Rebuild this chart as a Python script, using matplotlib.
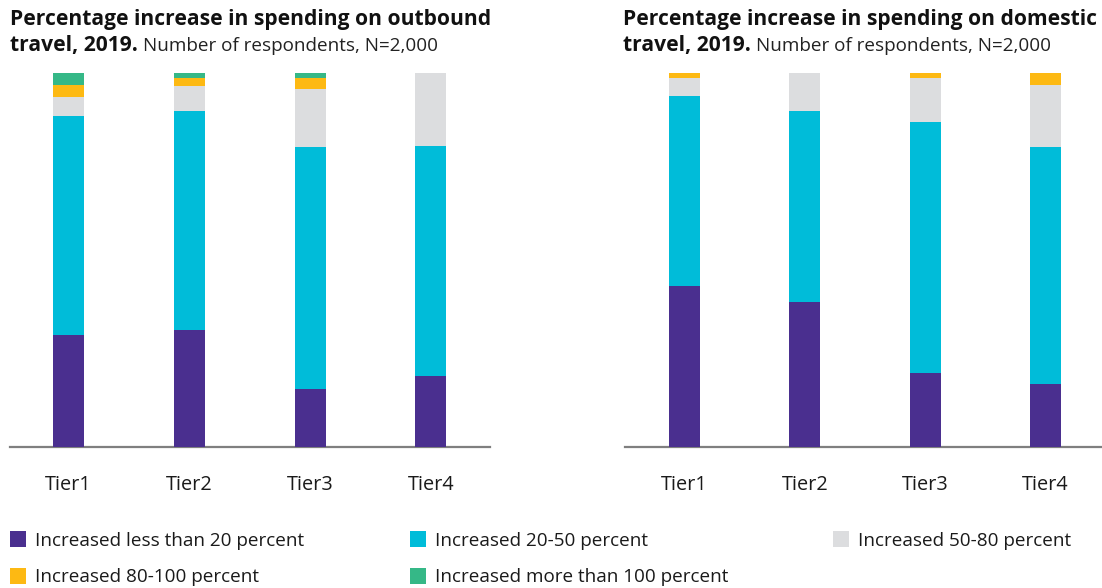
import matplotlib
matplotlib.use("Agg")
import matplotlib.pyplot as plt
from matplotlib.patches import Rectangle

plt.rcParams['font.family'] = ['Open Sans', 'DejaVu Sans']

tiers = ["Tier1", "Tier2", "Tier3", "Tier4"]
series_names = [
    "Increased less than 20 percent",
    "Increased 20-50 percent",
    "Increased 50-80 percent",
    "Increased 80-100 percent",
    "Increased more than 100 percent",
]
colors = ["#4a2f8f", "#00bcd9", "#dcdddf", "#fdb913", "#35b887"]

# Share of respondents (%) per tier, outbound travel
outbound_lt20 = [30.0, 31.3, 15.5, 19.0]
outbound_20_50 = [58.6, 58.6, 64.7, 61.5]
outbound_50_80 = [5.1, 6.7, 15.5, 19.5]
outbound_80_100 = [3.2, 2.1, 2.9, 0.0]
outbound_gt100 = [3.1, 1.3, 1.4, 0.0]

# Share of respondents (%) per tier, domestic travel
domestic_lt20 = [43.0, 38.8, 19.8, 16.8]
domestic_20_50 = [50.8, 51.1, 67.1, 63.4]
domestic_50_80 = [4.9, 10.1, 11.8, 16.6]
domestic_80_100 = [1.3, 0.0, 1.3, 3.2]
domestic_gt100 = [0.0, 0.0, 0.0, 0.0]

outbound = [outbound_lt20, outbound_20_50, outbound_50_80, outbound_80_100, outbound_gt100]
domestic = [domestic_lt20, domestic_20_50, domestic_50_80, domestic_80_100, domestic_gt100]

W, H = 1102, 588
fig = plt.figure(figsize=(W / 100, H / 100), dpi=100)


def px_axes(x0, x1, y_top, y_bot):
    return fig.add_axes([x0 / W, 1 - y_bot / H, (x1 - x0) / W, (y_bot - y_top) / H])


def stacked(ax, data, xlim):
    x = list(range(len(tiers)))
    bottom = [0.0] * len(tiers)
    for vals, c in zip(data, colors):
        ax.bar(x, vals, bottom=bottom, width=0.257, color=c, linewidth=0)
        bottom = [b + v for b, v in zip(bottom, vals)]
    ax.set_xlim(*xlim)
    ax.set_ylim(0, 100)
    ax.set_xticks(x)
    ax.set_xticklabels(tiers, fontsize=14.3, color="#1a1a1a")
    ax.tick_params(axis="x", length=0, pad=20.5)
    ax.set_yticks([])
    for s in ("top", "left", "right"):
        ax.spines[s].set_visible(False)
    ax.spines["bottom"].set_color("#7f7f7f")
    ax.spines["bottom"].set_linewidth(1.6)
    ax.spines["bottom"].set_zorder(0)


ax1 = px_axes(10, 490, 73, 447)
stacked(ax1, outbound, (-0.485, 3.49))
ax2 = px_axes(625, 1102, 73, 447)
stacked(ax2, domestic, (-0.494, 3.47))

# Two-line titles: bold lead-in followed by a regular note on the second line
renderer = fig.canvas.get_renderer()


def title(x, line1, bold2, rest):
    fig.text(x / W, 1 - 19 / H, line1, fontsize=15.1, fontweight="bold",
             va="center", ha="left", color="#111111")
    t = fig.text(x / W, 1 - 46 / H, bold2, fontsize=15.1, fontweight="bold",
                 va="center", ha="left", color="#111111")
    bb = t.get_window_extent(renderer)
    fig.text((bb.x1 + 5) / W, 1 - 46 / H, rest, fontsize=13.6, va="center",
             ha="left", color="#222222")


title(10, "Percentage increase in spending on outbound", "travel, 2019.",
      "Number of respondents, N=2,000")
title(623, "Percentage increase in spending on domestic", "travel, 2019.",
      "Number of respondents, N=2,000")

# Legend in three columns
legend_pos = [(10, 539), (410, 539), (833, 539), (10, 576), (410, 576)]
for (lx, ly), name, c in zip(legend_pos, series_names, colors):
    fig.patches.append(Rectangle((lx / W, 1 - (ly + 8) / H), 16 / W, 16 / H,
                                 transform=fig.transFigure, color=c, linewidth=0))
    fig.text((lx + 25) / W, 1 - (ly + 1.5) / H, name, fontsize=13.6, va="center",
             ha="left", color="#1a1a1a")

fig.savefig("out.png", dpi=100)
